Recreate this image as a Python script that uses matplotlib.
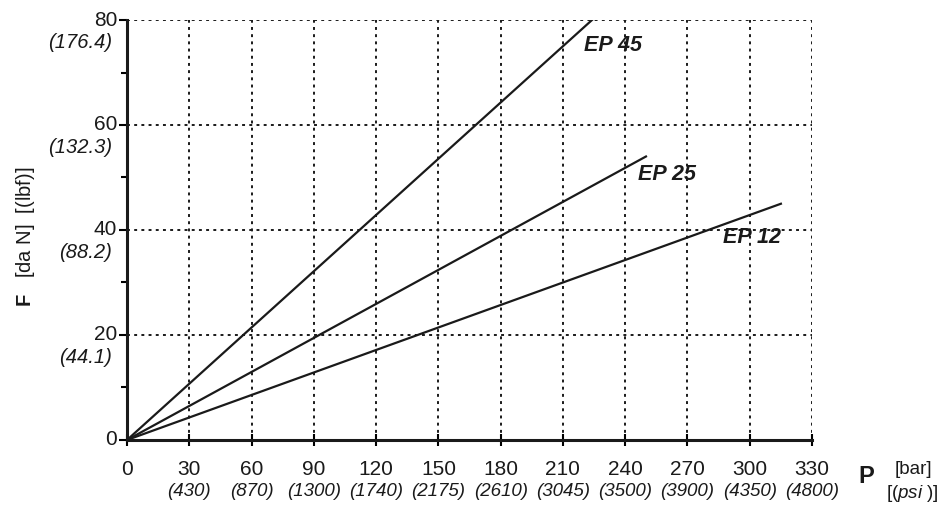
import numpy as np
import matplotlib.pyplot as plt

plt.rcParams['font.family'] = ['Liberation Sans', 'DejaVu Sans']
plt.rcParams['mathtext.fontset'] = 'custom'
plt.rcParams['mathtext.rm'] = 'Liberation Sans'
plt.rcParams['mathtext.it'] = 'Liberation Sans:italic'
plt.rcParams['mathtext.bf'] = 'Liberation Sans:bold'

# pressure ticks [bar] and the psi equivalents
x_ticks = [0, 30, 60, 90, 120, 150, 180, 210, 240, 270, 300, 330]
x_psi = ['', '(430)', '(870)', '(1300)', '(1740)', '(2175)', '(2610)',
         '(3045)', '(3500)', '(3900)', '(4350)', '(4800)']
# force ticks [da N] and lbf equivalents
y_ticks = [0, 20, 40, 60, 80]
y_lbf = ['', '(44.1)', '(88.2)', '(132.3)', '(176.4)']

# each model: line from origin to end point
models = ['EP 45', 'EP 25', 'EP 12']
p_end = [224, 250, 315]
f_end = [80, 54, 45]
label_x = [234, 260, 301]
label_y = [75.2, 50.5, 38.5]

fig = plt.figure(figsize=(9.45, 5.09), dpi=100)
ax = fig.add_axes([0.1344, 0.1356, 0.7249, 0.8251])

for name, pe, fe, lx, ly in zip(models, p_end, f_end, label_x, label_y):
    ax.plot([0, pe], [0, fe], color='#1a1a1a', lw=1.6, zorder=3)
    ax.text(lx, ly, name, fontsize=15.5, fontweight='bold', fontstyle='italic',
            ha='center', va='center', color='#1a1a1a', zorder=4)

ax.set_xlim(0, 330)
ax.set_ylim(0, 80)
ax.set_xticks(x_ticks)
ax.set_yticks(y_ticks)
ax.set_yticks([10, 30, 50, 70], minor=True)
ax.set_xticklabels([])
ax.set_yticklabels([])
ax.tick_params(axis='x', direction='inout', length=8, width=1.5)
ax.tick_params(axis='y', which='major', direction='out', length=6, width=1.5)
ax.tick_params(axis='y', which='minor', direction='out', length=4, width=1.5)

ax.grid(True, color='#1a1a1a', linestyle=(0, (1.5, 2.2)), lw=1.4, zorder=1)
ax.spines['top'].set_visible(False)
ax.spines['right'].set_visible(False)
ax.spines['left'].set_linewidth(2.2)
ax.spines['bottom'].set_linewidth(2.2)
ax.spines['left'].set_color('#1a1a1a')
ax.spines['bottom'].set_color('#1a1a1a')

# x tick labels, two lines
for xv, ps in zip(x_ticks, x_psi):
    ax.annotate(str(xv), xy=(xv, 0), xycoords=('data', 'axes fraction'),
                xytext=(0, -21), textcoords='offset points',
                ha='center', va='center', fontsize=15, color='#1a1a1a')
    if ps:
        ax.annotate(ps, xy=(xv, 0), xycoords=('data', 'axes fraction'),
                    xytext=(0, -37), textcoords='offset points',
                    ha='center', va='center', fontsize=13.5,
                    fontstyle='italic', color='#1a1a1a')

# y tick labels, two lines
for yv, lb in zip(y_ticks, y_lbf):
    ax.annotate(str(yv), xy=(0, yv), xycoords=('axes fraction', 'data'),
                xytext=(-7, 0), textcoords='offset points',
                ha='right', va='center', fontsize=15, color='#1a1a1a')
    if lb:
        ax.annotate(lb, xy=(0, yv), xycoords=('axes fraction', 'data'),
                    xytext=(-11, -16), textcoords='offset points',
                    ha='right', va='center', fontsize=14.5,
                    fontstyle='italic', color='#1a1a1a')

fig.text(0.027, 0.535, r'$\mathbf{F}$   [da N]  [(lbf)]', rotation=90,
         ha='center', va='center', fontsize=14.5, color='#1a1a1a')

fig.text(0.917, 0.063, 'P', fontsize=17, fontweight='bold',
         ha='center', va='center', color='#1a1a1a')
fig.text(0.967, 0.078, '[bar]', fontsize=13.5, ha='center', va='center',
         color='#1a1a1a')
fig.text(0.966, 0.031, r'[($\mathit{psi}$ )]', fontsize=13.5, ha='center',
         va='center', color='#1a1a1a')

fig.savefig('out.png', dpi=100)
